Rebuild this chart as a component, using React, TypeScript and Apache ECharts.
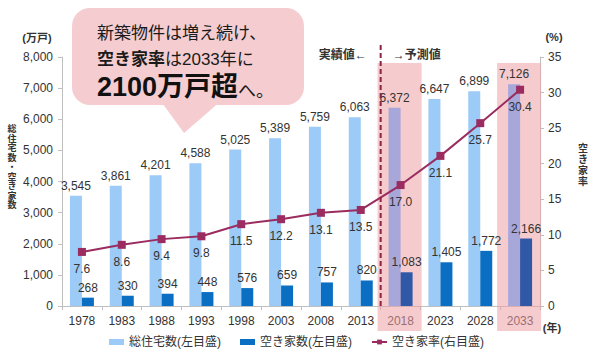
import React, { useEffect, useRef } from 'react';
import * as echarts from 'echarts';

const years = ['1978', '1983', '1988', '1993', '1998', '2003', '2008', '2013', '2018', '2023', '2028', '2033'];
const totalHouses = [3545, 3861, 4201, 4588, 5025, 5389, 5759, 6063, 6372, 6647, 6899, 7126];
const vacantHouses = [268, 330, 394, 448, 576, 659, 757, 820, 1083, 1405, 1772, 2166];
const vacancyRate = [7.6, 8.6, 9.4, 9.8, 11.5, 12.2, 13.1, 13.5, 17.0, 21.1, 25.7, 30.4];
const highlightYears = ['2018', '2033'];
const lastActualYear = '2013';
const firstForecastYear = '2018';

const seriesNames = ['総住宅数(左目盛)', '空き家数(左目盛)', '空き家率(右目盛)'];
const leftAxisMax = 8000;
const leftAxisStep = 1000;
const rightAxisMax = 35;
const rightAxisStep = 5;

const FONT = 'Arial, "Liberation Sans", "Noto Sans CJK JP", sans-serif';
const fmt = (v: number) => v.toLocaleString('en-US');

export default function App() {
  const ref = useRef<HTMLDivElement>(null);

  useEffect(() => {
    if (!ref.current) return;
    const chart = echarts.init(ref.current, undefined, { renderer: 'svg' });
    const isHi = (y: string) => highlightYears.includes(y);

    chart.setOption({
      animation: false,
      backgroundColor: '#ffffff',
      textStyle: { fontFamily: FONT },
      grid: { left: 62, right: 51, top: 57, bottom: 55 },
      legend: {
        left: 104,
        top: 331,
        itemWidth: 15,
        itemHeight: 6,
        itemGap: 19,
        textStyle: { fontSize: 12, color: '#333', fontFamily: FONT },
        data: [
          { name: seriesNames[0], icon: 'rect' },
          { name: seriesNames[1], icon: 'rect' },
          { name: seriesNames[2] },
        ],
      },
      xAxis: {
        type: 'category',
        data: years,
        axisLine: { lineStyle: { color: '#bfbfbf', width: 1 } },
        axisTick: { show: true, length: 4, lineStyle: { color: '#bfbfbf' } },
        axisLabel: { fontSize: 12, color: '#333', margin: 9, fontFamily: FONT },
      },
      yAxis: [
        {
          type: 'value',
          min: 0,
          max: leftAxisMax,
          interval: leftAxisStep,
          splitLine: { show: false },
          axisLine: { show: true, lineStyle: { color: '#bfbfbf' } },
          axisTick: { show: true, length: 4, lineStyle: { color: '#bfbfbf' } },
          axisLabel: { fontSize: 12, color: '#333', margin: 9, formatter: (v: number) => fmt(v), fontFamily: FONT },
        },
        {
          type: 'value',
          min: 0,
          max: rightAxisMax,
          interval: rightAxisStep,
          splitLine: { show: false },
          axisLine: { show: true, lineStyle: { color: '#bfbfbf' } },
          axisTick: { show: true, length: 4, lineStyle: { color: '#bfbfbf' } },
          axisLabel: { fontSize: 12, color: '#333', margin: 8, fontFamily: FONT },
        },
      ],
      series: [
        {
          name: seriesNames[0],
          type: 'bar',
          barWidth: 12,
          barGap: '0%',
          itemStyle: { color: '#9dcbf7' },
          data: totalHouses.map((v, i) => ({
            value: v,
            itemStyle: { color: isHi(years[i]) ? '#a7a7da' : '#9dcbf7' },
          })),
          label: {
            show: true,
            position: 'top',
            distance: 4,
            fontSize: 12,
            color: '#333',
            fontFamily: FONT,
            formatter: (p: any) => fmt(p.value),
          },
          z: 3,
        },
        {
          name: seriesNames[1],
          type: 'bar',
          barWidth: 12,
          barGap: '0%',
          itemStyle: { color: '#0a6fc3' },
          data: vacantHouses.map((v, i) => ({
            value: v,
            itemStyle: { color: isHi(years[i]) ? '#2f58a6' : '#0a6fc3' },
          })),
          label: {
            show: true,
            position: 'top',
            distance: 4,
            fontSize: 12,
            color: '#333',
            fontFamily: FONT,
            formatter: (p: any) => fmt(p.value),
          },
          z: 3,
        },
        {
          name: seriesNames[2],
          type: 'line',
          yAxisIndex: 1,
          data: vacancyRate,
          symbol: 'rect',
          symbolSize: 8,
          itemStyle: { color: '#9b2c5f' },
          lineStyle: { color: '#9b2c5f', width: 2 },
          label: {
            show: true,
            position: 'bottom',
            distance: 7,
            fontSize: 12,
            color: '#333',
            fontFamily: FONT,
            formatter: (p: any) => Number(p.value).toFixed(1),
          },
          z: 6,
        },
      ],
    });

    const cx = (y: string) => chart.convertToPixel({ xAxisIndex: 0 }, y) as number;
    const dashX = (cx(lastActualYear) + cx(firstForecastYear)) / 2;
    const bubbleFill = '#f5cdd0';

    const hiRects = highlightYears.map((y) => ({
      type: 'rect',
      z: 1,
      shape: { x: cx(y) - 23, y: 63, width: 44, height: 268 },
      style: { fill: 'rgba(236,160,166,0.55)' },
      silent: true,
    }));

    chart.setOption({
      graphic: [
        ...hiRects,
        {
          type: 'line',
          z: 10,
          shape: { x1: dashX, y1: 45, x2: dashX, y2: 309 },
          style: { stroke: '#8c2443', lineWidth: 2, lineDash: [5, 3] },
        },
        {
          type: 'text',
          z: 10,
          x: dashX - 14,
          y: 55,
          style: { text: '実績値←', align: 'right', verticalAlign: 'middle', fontSize: 12, fontWeight: 'bold', fill: '#333', fontFamily: FONT },
        },
        {
          type: 'text',
          z: 10,
          x: dashX + 12,
          y: 55,
          style: { text: '→予測値', align: 'left', verticalAlign: 'middle', fontSize: 12, fontWeight: 'bold', fill: '#333', fontFamily: FONT },
        },
        {
          type: 'text',
          x: 37,
          y: 38,
          style: { text: '(万戸)', align: 'center', verticalAlign: 'middle', fontSize: 11, fontWeight: 'bold', fill: '#333', fontFamily: FONT },
        },
        {
          type: 'text',
          x: 554,
          y: 37,
          style: { text: '(%)', align: 'center', verticalAlign: 'middle', fontSize: 11, fontWeight: 'bold', fill: '#333', fontFamily: FONT },
        },
        {
          type: 'text',
          x: 552,
          y: 328,
          style: { text: '(年)', align: 'center', verticalAlign: 'middle', fontSize: 11, fontWeight: 'bold', fill: '#333', fontFamily: FONT },
        },
        {
          type: 'text',
          x: 12,
          y: 167,
          style: {
            text: '総\n住\n宅\n数\n・\n空\nき\n家\n数',
            align: 'center',
            verticalAlign: 'middle',
            fontSize: 9,
            lineHeight: 9.5,
            fontWeight: 'bold',
            fill: '#333',
            fontFamily: FONT,
          },
        },
        {
          type: 'text',
          x: 583,
          y: 165,
          style: {
            text: '空\nき\n家\n率',
            align: 'center',
            verticalAlign: 'middle',
            fontSize: 10,
            lineHeight: 11,
            fontWeight: 'bold',
            fill: '#333',
            fontFamily: FONT,
          },
        },
        {
          type: 'rect',
          z: 20,
          shape: { x: 72, y: 8, width: 232, height: 97, r: 18 },
          style: { fill: bubbleFill },
        },
        {
          type: 'polygon',
          z: 20,
          shape: { points: [[160, 100], [222, 100], [184, 133]] },
          style: { fill: bubbleFill },
        },
        {
          type: 'text',
          z: 21,
          x: 97,
          y: 33,
          style: { text: '新築物件は増え続け、', verticalAlign: 'middle', fontSize: 17, fill: '#1a1a1a', fontFamily: FONT },
        },
        {
          type: 'text',
          z: 21,
          x: 97,
          y: 59,
          style: {
            text: '{b|空き家率}{n|は2033年に}',
            verticalAlign: 'middle',
            fill: '#1a1a1a',
            fontFamily: FONT,
            rich: {
              b: { fontSize: 17, fontWeight: 'bold', fill: '#1a1a1a', fontFamily: FONT },
              n: { fontSize: 17, fill: '#1a1a1a', fontFamily: FONT },
            },
          },
        },
        {
          type: 'text',
          z: 21,
          x: 97,
          y: 87,
          style: {
            text: '{big|2100万戸超}{n|へ。}',
            verticalAlign: 'middle',
            fill: '#1a1a1a',
            fontFamily: FONT,
            rich: {
              big: { fontSize: 27, fontWeight: 'bold', fill: '#111', fontFamily: FONT, verticalAlign: 'bottom' },
              n: { fontSize: 18, fill: '#1a1a1a', fontFamily: FONT, verticalAlign: 'bottom', padding: [0, 0, 1, 0] },
            },
          },
        },
      ],
    });

    return () => chart.dispose();
  }, []);

  return <div ref={ref} style={{ position: 'fixed', left: 0, top: 0, width: 591, height: 361 }} />;
}
